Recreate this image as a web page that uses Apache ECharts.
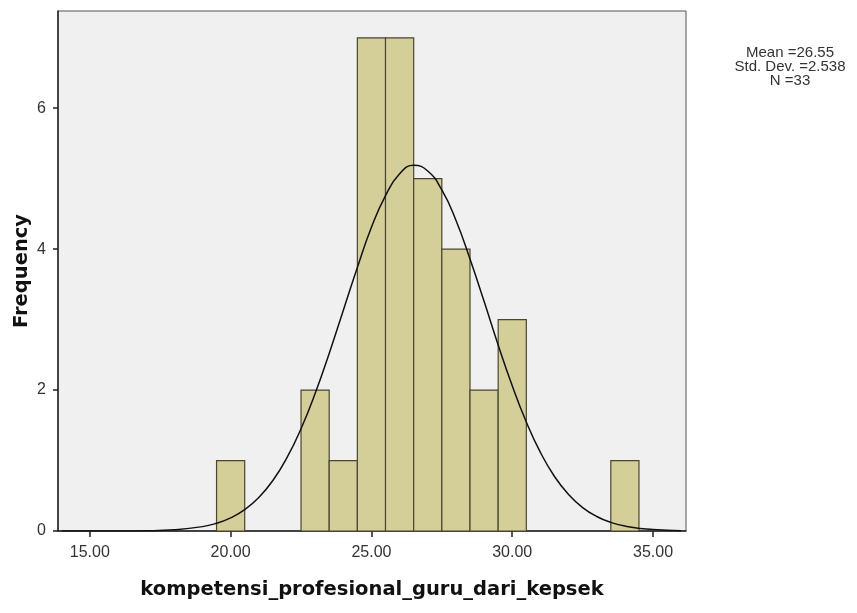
<!DOCTYPE html>
<html>
<head>
<meta charset="utf-8">
<script src="https://cdn.jsdelivr.net/npm/echarts@6/dist/echarts.min.js"></script>
<style>html,body{margin:0;padding:0;background:#fff;}#c{width:857px;height:613px;}</style>
</head>
<body>
<div id="c"></div>
<script>
// Histogram bins (bin centre, width 1) and frequencies
const binCenters = [20, 23, 24, 25, 26, 27, 28, 29, 30, 34];
const frequencies = [1, 2, 1, 7, 7, 5, 4, 2, 3, 1];
// Normal curve points
const curveX = [14, 15, 16, 17, 18, 19, 19.5, 20, 20.5, 21, 21.5, 22, 22.5, 23, 23.5, 24, 24.5, 25, 25.5, 26, 26.5, 27, 27.5, 28, 28.5, 29, 29.5, 30, 30.5, 31, 31.5, 32, 32.5, 33, 33.5, 34, 35, 36];
const curveY = [0, 0.0002, 0.001, 0.004, 0.018, 0.062, 0.11, 0.186, 0.303, 0.475, 0.716, 1.04, 1.452, 1.95, 2.52, 3.13, 3.74, 4.31, 4.76, 5.07, 5.19, 5.11, 4.84, 4.41, 3.86, 3.26, 2.64, 2.06, 1.546, 1.115, 0.774, 0.518, 0.332, 0.206, 0.122, 0.07, 0.02, 0.005];
// Tick labels
const xTicks = [15, 20, 25, 30, 35];
const xTickLabels = ['15.00', '20.00', '25.00', '30.00', '35.00'];
const yTicks = [0, 2, 4, 6];
const statsLines = ['Mean =26.55', 'Std. Dev. =2.538', 'N =33'];

const barData = binCenters.map((c, i) => [c, frequencies[i]]);
const curveData = curveX.map((x, i) => [x, curveY[i]]);

const chart = echarts.init(document.getElementById('c'), null, {renderer: 'canvas'});
chart.setOption({
  animation: false,
  backgroundColor: '#ffffff',
  grid: {
    left: 58, top: 11, right: 171, bottom: 82,
    show: true, backgroundColor: '#f0f0f0', borderColor: '#555555', borderWidth: 1
  },
  xAxis: {
    type: 'value', min: 13.87, max: 36.17,
    name: 'kompetensi_profesional_guru_dari_kepsek',
    nameLocation: 'middle', nameGap: 49, nameMoveOverlap: false,
    nameTextStyle: {fontFamily: 'DejaVu Sans', fontWeight: 'bold', fontSize: 19.5, color: '#111'},
    axisLine: {show: true, onZero: false, lineStyle: {color: '#222', width: 1.5}},
    axisTick: {show: true, customValues: xTicks, length: 6, lineStyle: {color: '#222', width: 1.5}},
    axisLabel: {show: true, customValues: xTicks, margin: 14, fontFamily: 'Liberation Sans', fontSize: 16, color: '#333',
      formatter: v => xTickLabels[xTicks.indexOf(v)] ?? ''},
    splitLine: {show: false}
  },
  yAxis: {
    type: 'value', min: 0, max: 7.38,
    name: 'Frequency', nameLocation: 'middle', nameGap: 26, nameRotate: 90, nameMoveOverlap: false,
    nameTextStyle: {fontFamily: 'DejaVu Sans', fontWeight: 'bold', fontSize: 19.5, color: '#111'},
    axisLine: {show: true, lineStyle: {color: '#222', width: 1.5}},
    axisTick: {show: true, customValues: yTicks, length: 5, lineStyle: {color: '#222', width: 1.5}},
    axisLabel: {show: true, customValues: yTicks, margin: 12, fontFamily: 'Liberation Sans', fontSize: 16, color: '#333',
      formatter: v => String(v)},
    splitLine: {show: false}
  },
  series: [
    {
      type: 'custom',
      data: barData,
      encode: {x: 0, y: 1},
      z: 2,
      renderItem: function (params, api) {
        const x = api.value(0), y = api.value(1);
        const p0 = api.coord([x - 0.5, y]);
        const p1 = api.coord([x + 0.5, 0]);
        return {
          type: 'rect',
          shape: {x: p0[0], y: p0[1], width: p1[0] - p0[0], height: p1[1] - p0[1]},
          style: {fill: '#d4cf98', stroke: '#4a4630', lineWidth: 1.2}
        };
      }
    },
    {
      type: 'line',
      data: curveData,
      smooth: true,
      showSymbol: false,
      z: 3,
      lineStyle: {color: '#111', width: 1.5}
    }
  ],
  graphic: [{
    type: 'text', x: 790, y: 46,
    style: {
      text: statsLines.join('\n'), x: 0, y: 0,
      align: 'center', verticalAlign: 'top', lineHeight: 14,
      font: '15px "Liberation Sans"', fill: '#333'
    }
  }]
});
</script>
</body>
</html>
